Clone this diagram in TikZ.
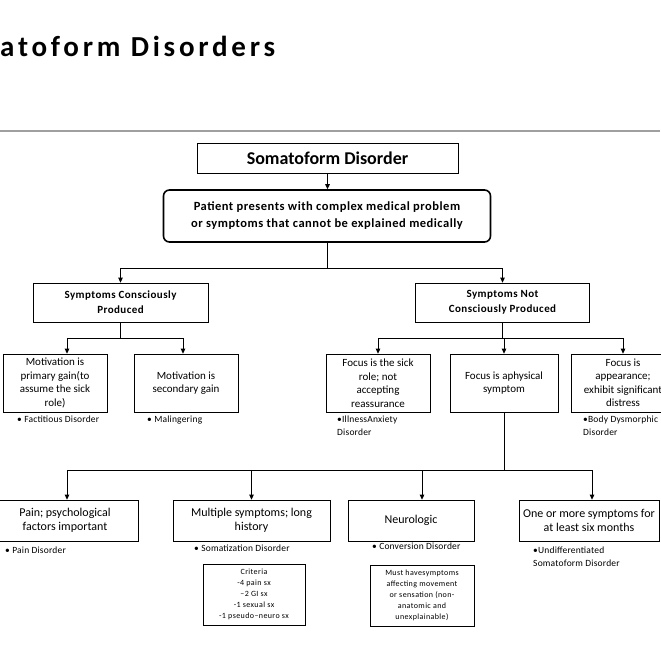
\documentclass[tikz,border=0pt]{standalone}
\usepackage{fontspec}
\setmainfont{Carlito}
\newfontfamily\headfont[LetterSpace=13]{Carlito}
\newfontfamily\boldspaced[LetterSpace=4]{Carlito}
\newfontfamily\notefont[LetterSpace=2]{Carlito}
\newfontfamily\tinyfont[LetterSpace=5]{Carlito}
\usetikzlibrary{arrows.meta}

\tikzset{
  box/.style={draw, rectangle, align=center, inner sep=2pt, line width=0.7pt,
    font=\fontsize{11}{13.5}\selectfont},
  bigbox/.style={box, font=\fontsize{12}{14}\selectfont},
  headbox/.style={box, font=\boldspaced\bfseries\fontsize{11}{15}\selectfont},
  smallbox/.style={box, font=\tinyfont\fontsize{8}{11}\selectfont},
  note/.style={anchor=north west, align=left, inner sep=0pt,
    font=\notefont\fontsize{9.5}{12.5}\selectfont},
  arr/.style={-{Triangle[length=5pt,width=4.5pt]}, line width=1pt},
}

\begin{document}
\begin{tikzpicture}[x=1pt, y=-1pt]
\useasboundingbox (0,0) rectangle (660,660);

% title and rule
\node[anchor=base west, inner sep=0pt, font=\headfont\bfseries\fontsize{29}{30}\selectfont] (title) at (0,57) {atoform Disorders};
\coordinate (ruleL) at (0,131);
\coordinate (ruleR) at (660,131);
\draw[gray!75, line width=1.5pt] (ruleL) -- (ruleR);

% top of the tree
\node[box, minimum width=261pt, minimum height=30pt, font=\bfseries\fontsize{18}{19}\selectfont] (sd) at (327.5,158) {Somatoform Disorder};
\node[box, rounded corners=6pt, line width=1.6pt, minimum width=327pt, minimum height=52pt,
  font=\boldspaced\bfseries\fontsize{12.5}{17}\selectfont] (pat) at (327,216)
  {Patient presents with complex medical problem\\or symptoms that cannot be explained medically};

\node[headbox, minimum width=175pt, minimum height=39pt] (scp) at (120.5,302.5) {Symptoms Consciously\\Produced};
\node[headbox, minimum width=174pt, minimum height=39pt] (sncp) at (502.5,302.5) {Symptoms Not\\Consciously Produced};

% second level
\node[box, minimum width=104pt, minimum height=58pt] (mpg) at (55,383) {Motivation is\\primary gain(to\\assume the sick\\role)};
\node[box, minimum width=104pt, minimum height=58pt] (msg) at (186,383) {Motivation is\\secondary gain};
\node[box, minimum width=104pt, minimum height=58pt] (fsr) at (378,383) {Focus is the sick\\role; not\\accepting\\reassurance};
\node[box, minimum width=108pt, minimum height=58pt] (fps) at (504,383) {Focus is aphysical\\symptom};
\node[box, minimum width=104pt, minimum height=58pt] (fap) at (623,383) {Focus is\\appearance;\\exhibit significant\\distress};

\node[note] (n1) at (17,416) {• Factitious Disorder};
\node[note] (n2) at (147,416) {• Malingering};
\node[note] (n3) at (337,416) {•IllnessAnxiety\\Disorder};
\node[note] (n4) at (583,416) {•Body Dysmorphic\\Disorder};

% third level
\node[bigbox, minimum width=146pt, minimum height=41pt] (pain) at (65,520.5) {Pain; psychological\\factors important};
\node[bigbox, minimum width=157pt, minimum height=41pt] (mult) at (251.5,520.5) {Multiple symptoms; long\\history};
\node[bigbox, minimum width=126pt, minimum height=41pt] (neuro) at (411,520.5) {Neurologic};
\node[bigbox, minimum width=140pt, minimum height=41pt] (onemore) at (589,520.5) {One or more symptoms for\\at least six months};

\node[note] (n5) at (5,547) {• Pain Disorder};
\node[note] (n6) at (194,545) {• Somatization Disorder};
\node[note] (n7) at (372,543) {• Conversion Disorder};
\node[note] (n8) at (533,547) {•Undifferentiated\\Somatoform Disorder};

\node[smallbox, minimum width=102pt, minimum height=61pt] (crit) at (254,594.5) {Criteria\\-4 pain sx\\–2 GI sx\\-1 sexual sx\\-1 pseudo–neuro sx};
\node[smallbox, minimum width=104pt, minimum height=61pt] (must) at (422,595.5) {Must havesymptoms\\affecting movement\\or sensation (non-\\anatomic and\\unexplainable)};

% connectors
\draw[arr] (sd.south) -- (sd.south |- pat.north);
\coordinate (j1) at ([yshift=-26pt]pat.south);
\draw[line width=0.7pt] (pat.south) -- (j1);
\foreach \t in {scp, sncp}
  \draw[arr] (j1) -| (\t.north);

\coordinate (j2) at ([yshift=-16pt]scp.south);
\draw[line width=0.7pt] (scp.south) -- (j2);
\draw[arr] (j2) -| ([xshift=12pt]mpg.north);
\draw[arr] (j2) -| ([xshift=-3pt]msg.north);

\coordinate (j3) at ([yshift=-16pt]sncp.south);
\draw[line width=0.7pt] (sncp.south) -- (j3);
\foreach \t in {fsr, fps, fap}
  \draw[arr] (j3) -| (\t.north);

\coordinate (j4) at ([yshift=-58pt]fps.south);
\draw[line width=0.7pt] (fps.south) -- (j4);
\draw[arr] (j4) -| ([xshift=2pt]pain.north);
\draw[arr] (j4) -| (mult.north);
\draw[arr] (j4) -| ([xshift=11pt]neuro.north);
\draw[arr] (j4) -| ([xshift=3pt]onemore.north);
\end{tikzpicture}
\end{document}
